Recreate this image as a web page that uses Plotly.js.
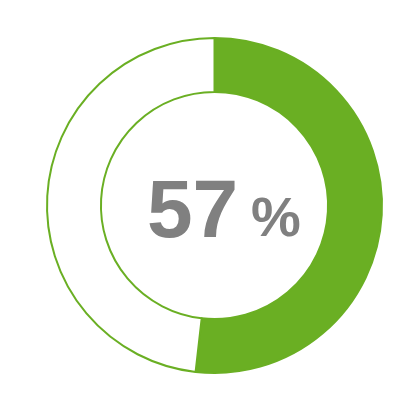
<!DOCTYPE html>
<html>
<head>
<meta charset="utf-8">
<script src="https://cdn.plot.ly/plotly-3.0.1.min.js"></script>
<style>
  html, body { margin: 0; padding: 0; background: #ffffff; }
  #chart { width: 414px; height: 414px; }
</style>
</head>
<body>
<div id="chart"></div>
<script>
// label shown in the middle, and the two slices as drawn
var percent_label = 57;
var slice_names = ['done', 'rest'];
var slice_values = [51.8, 48.2];
var slice_colors = ['#6aaf23', '#ffffff'];

var data = [{
  type: 'pie',
  values: slice_values,
  labels: slice_names,
  sort: false,
  direction: 'clockwise',
  rotation: 0,
  hole: 0.678,
  textinfo: 'none',
  hoverinfo: 'none',
  showlegend: false,
  marker: {
    colors: slice_colors,
    line: { color: '#6aaf23', width: 2 }
  }
}];

var layout = {
  width: 414,
  height: 414,
  paper_bgcolor: '#ffffff',
  plot_bgcolor: '#ffffff',
  margin: { l: 47, r: 32, t: 38, b: 41, pad: 0 },
  annotations: [
    {
      xref: 'paper', yref: 'paper',
      x: 0.435, y: 0.49,
      xanchor: 'center', yanchor: 'middle',
      text: '<b>' + percent_label + '</b>',
      font: { family: 'Liberation Sans', size: 82, color: '#808080' },
      showarrow: false
    },
    {
      xref: 'paper', yref: 'paper',
      x: 0.685, y: 0.468,
      xanchor: 'center', yanchor: 'middle',
      text: '<b>%</b>',
      font: { family: 'Liberation Sans', size: 56, color: '#808080' },
      showarrow: false
    }
  ]
};

Plotly.newPlot('chart', data, layout, { displayModeBar: false, staticPlot: true });
</script>
</body>
</html>
